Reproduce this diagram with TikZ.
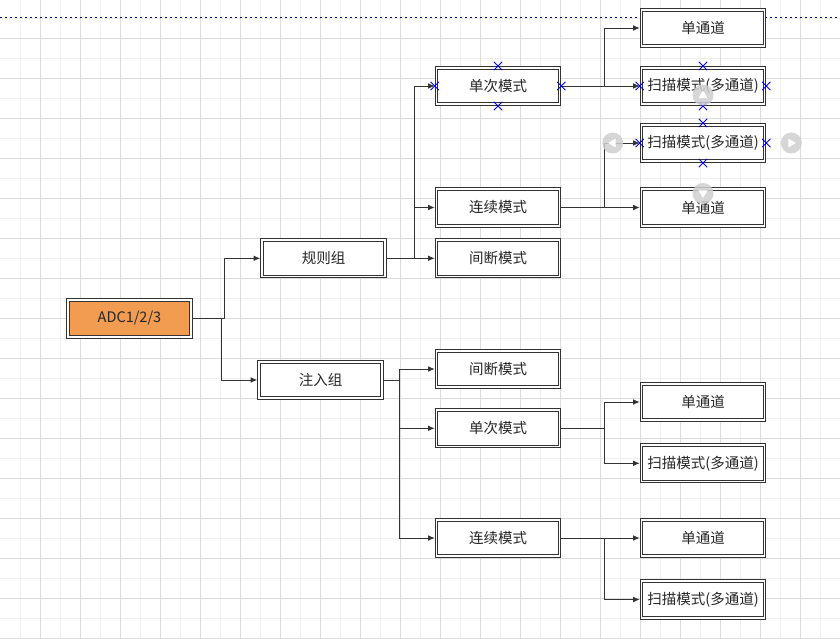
\documentclass[tikz,border=0pt]{standalone}
\usepackage{fontspec}
\setmainfont{Noto Sans CJK SC}
\usetikzlibrary{arrows.meta,positioning}
\definecolor{boxline}{HTML}{333333}
\definecolor{adcfill}{HTML}{F19C51}
\definecolor{gridminor}{HTML}{EFEFEF}
\definecolor{gridmajor}{HTML}{DCDCDC}
\definecolor{handle}{HTML}{0000FF}
\definecolor{hover}{HTML}{CFCFCF}
\tikzset{box/.style={
    rectangle,minimum width=123pt,minimum height=36.5pt,inner sep=0pt,
    draw=boxline,line width=0.9pt,double=white,double distance=1.8pt,
    fill=white,outer sep=1.8pt,
    font=\fontsize{14.5}{17}\selectfont,text=black!85}
    }
\tikzset{rootbox/.style={box,fill=adcfill}}
\tikzset{arrow/.style={-{Latex[length=6.5pt,width=5.5pt]},draw=boxline,line width=0.8pt},
  handlex/.style={draw=handle,line width=0.8pt},
  hovercirc/.style={fill=hover,fill opacity=0.85},
  topline/.style={draw=handle!45!black,line width=0.8pt,dash pattern=on 2pt off 3pt},
}

\begin{document}
\begin{tikzpicture}[x=1pt,y=-1pt]
    \useasboundingbox (0,0) rectangle (840,639);
    % grid
    \foreach \x in {20,60,...,820} \draw[gridminor,line width=0.8pt] (\x,0) -- (\x,639);
    \foreach \y in {18,58,...,618} \draw[gridminor,line width=0.8pt] (0,\y) -- (840,\y);
    \foreach \x in {40,80,...,840} \draw[gridmajor,line width=0.8pt] (\x,0) -- (\x,639);
    \foreach \y in {38,78,...,638} \draw[gridmajor,line width=0.8pt] (0,\y) -- (840,\y);
    \draw[topline] (0,17) -- (840,17);
    % level 0
    \node (adc) [rootbox] at (129.5,318.5) {ADC1/2/3};
    % level 1
    \node (rule) [box] at (323.5,258.3) {规则组};
    \node (inj) [box] at (320.5,380) {注入组};
    % level 2
    \node (single1) [box] at (498,86) {单次模式};
    \node (cont1) [box] at (498,207.5) {连续模式};
    \node (disc1) [box] at (498,258.3) {间断模式};
    \node (disc2) [box] at (498,369) {间断模式};
    \node (single2) [box] at (498,428.3) {单次模式};
    \node (cont2) [box] at (498,538) {连续模式};
    % level 3
    \node (chan1) [box] at (703,28) {单通道};
    \node (scan1) [box] at (703,86) {扫描模式(多通道)};
    \node (scan2) [box] at (703,143) {扫描模式(多通道)};
    \node (chan2) [box] at (703,207.5) {单通道};
    \node (chan3) [box] at (703,402) {单通道};
    \node (scan3) [box] at (703,463.3) {扫描模式(多通道)};
    \node (chan4) [box] at (703,538) {单通道};
    \node (scan4) [box] at (703,599.5) {扫描模式(多通道)};
    % connectors
    \draw[arrow] (adc.east) -- ++(32,0) |- (rule.west);
    \draw[arrow] (adc.east) -- ++(29,0) |- (inj.west);
    \draw[arrow] (rule.east) -- ++(28,0) |- (single1.west);
    \draw[arrow] (rule.east) -- ++(28,0) |- (cont1.west);
    \draw[arrow] (rule.east) -- (disc1.west);
    \draw[arrow] (single1.east) -- ++(43,0) |- (chan1.west);
    \draw[arrow] (single1.east) -- (scan1.west);
    \draw[arrow] (cont1.east) -- ++(43,0) |- (scan2.west);
    \draw[arrow] (cont1.east) -- (chan2.west);
    \draw[arrow] (inj.east) -- ++(16,0) |- (disc2.west);
    \draw[arrow] (inj.east) -- ++(16,0) |- (single2.west);
    \draw[arrow] (inj.east) -- ++(16,0) |- (cont2.west);
    \draw[arrow] (single2.east) -- ++(43,0) |- (chan3.west);
    \draw[arrow] (single2.east) -- ++(43,0) |- (scan3.west);
    \draw[arrow] (cont2.east) -- (chan4.west);
    \draw[arrow] (cont2.east) -- ++(43,0) |- (scan4.west);
    % selection handles
    \foreach \n in {single1,scan1,scan2}
      \foreach \a in {north,south,east,west}
        \draw[handlex] (\n.\a) +(-4.2,-4.2) -- +(4.2,4.2) +(-4.2,4.2) -- +(4.2,-4.2);
    % hover arrows
    \coordinate (hup) at ([yshift=11pt]scan1.south);
    \coordinate (hleft) at ([xshift=-27pt]scan2.west);
    \coordinate (hright) at ([xshift=25pt]scan2.east);
    \coordinate (hdown) at ([yshift=-6pt]chan2.north);
    \foreach \c in {hup,hleft,hright,hdown} \fill[hovercirc] (\c) circle (10.5);
    \fill[white] (hup) ++(-4.5,3) -- ++(9,0) -- ++(-4.5,-7.5) -- cycle;
    \fill[white] (hdown) ++(-4.5,-3) -- ++(9,0) -- ++(-4.5,7.5) -- cycle;
    \fill[white] (hleft) ++(3,-4.5) -- ++(0,9) -- ++(-7.5,-4.5) -- cycle;
    \fill[white] (hright) ++(-3,-4.5) -- ++(0,9) -- ++(7.5,-4.5) -- cycle;
\end{tikzpicture}
\end{document}
